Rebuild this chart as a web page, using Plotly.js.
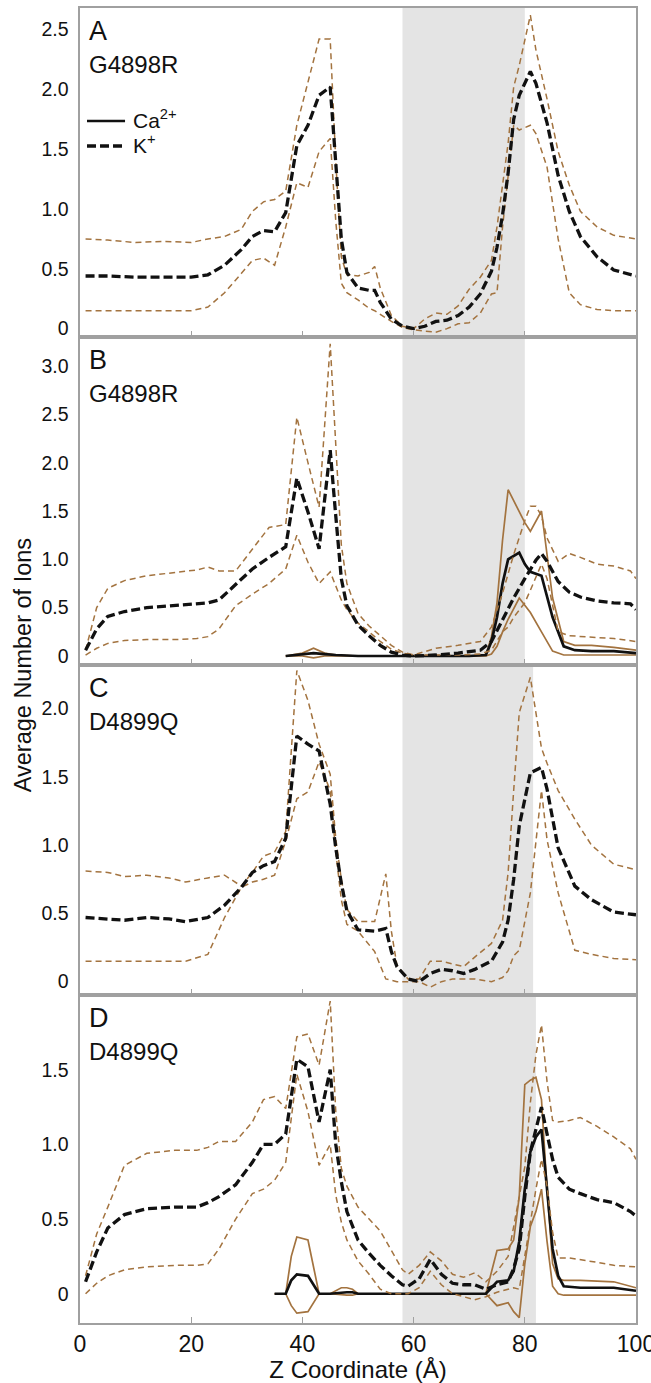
<!DOCTYPE html>
<html>
<head>
<meta charset="utf-8">
<script src="https://cdn.plot.ly/plotly-3.0.1.min.js"></script>
<style>html,body{margin:0;padding:0;background:#fff;}#chart{width:651px;height:1383px;}</style>
</head>
<body>
<div id="chart"></div>
<script>
// ---------- DATA ----------
const panelLetters = ['A', 'B', 'C', 'D'];
const panelMutants = ['G4898R', 'G4898R', 'D4899Q', 'D4899Q'];
const legendLabels = ['Ca<sup>2+</sup>', 'K<sup>+</sup>'];
const shadeStart = [58, 58, 58, 58];
const shadeEnd = [80, 80, 81.5, 82];
const xTickVals = [0, 20, 40, 60, 80, 100];
const xTickText = ['0', '20', '40', '60', '80', '100'];
const yTickValsA = [0, 0.5, 1.0, 1.5, 2.0, 2.5];
const yTickTextA = ['0', '0.5', '1.0', '1.5', '2.0', '2.5'];
const yTickValsB = [0, 0.5, 1.0, 1.5, 2.0, 2.5, 3.0];
const yTickTextB = ['0', '0.5', '1.0', '1.5', '2.0', '2.5', '3.0'];
const yTickValsC = [0, 0.5, 1.0, 1.5, 2.0];
const yTickTextC = ['0', '0.5', '1.0', '1.5', '2.0'];
const yTickValsD = [0, 0.5, 1.0, 1.5];
const yTickTextD = ['0', '0.5', '1.0', '1.5'];

// Panel A (G4898R) K+
const zA = [1,5,10,15,20,23,26,29,31,33,35,37,39,41,43,45,46,47,48,50,52,53,54,56,58,60,62,64,66,68,70,72,74,75,76,77,78,79,81,82,84,86,88,90,93,96,100];
const kMeanA = [0.44,0.44,0.43,0.43,0.43,0.45,0.53,0.66,0.77,0.82,0.81,0.97,1.53,1.70,1.95,2.02,1.40,0.75,0.47,0.34,0.32,0.32,0.22,0.08,0.02,0.0,0.02,0.06,0.07,0.11,0.18,0.29,0.48,0.68,0.95,1.30,1.75,1.95,2.15,2.05,1.72,1.28,0.98,0.77,0.60,0.49,0.44];
const kUpA = [0.75,0.74,0.72,0.73,0.72,0.75,0.77,0.83,0.98,1.06,1.08,1.15,1.70,2.05,2.42,2.42,1.40,0.60,0.45,0.44,0.47,0.52,0.34,0.11,0.02,0.0,0.08,0.13,0.12,0.19,0.33,0.43,0.57,0.85,1.20,1.55,2.02,2.20,2.62,2.33,1.92,1.48,1.20,0.98,0.85,0.78,0.75];
const kLoA = [0.15,0.15,0.15,0.15,0.15,0.18,0.30,0.46,0.57,0.59,0.53,0.85,1.22,1.18,1.48,1.59,0.90,0.38,0.30,0.24,0.17,0.15,0.12,0.06,0.01,-0.01,-0.02,-0.03,0.0,0.04,0.05,0.13,0.29,0.30,0.85,1.30,1.70,1.66,1.70,1.63,1.35,0.75,0.30,0.20,0.16,0.15,0.15];

// Panel B (G4898R) K+
const zB = [1,3,5,8,12,17,21,23,25,28,31,34,37,39,41,43,45,46,47,48,50,52,54,56,58,60,64,68,72,74,76,77,78,80,81,82,83,84,86,88,90,93,96,99,100];
const kMeanB = [0.06,0.28,0.41,0.46,0.50,0.52,0.54,0.55,0.58,0.74,0.90,1.02,1.13,1.84,1.49,1.11,2.13,1.45,0.80,0.52,0.32,0.21,0.11,0.04,0.01,0.0,0.01,0.03,0.06,0.15,0.38,0.49,0.60,0.80,0.90,0.99,1.06,0.98,0.77,0.66,0.61,0.57,0.55,0.54,0.48];
const kUpB = [0.06,0.50,0.70,0.78,0.83,0.86,0.89,0.92,0.88,0.88,1.10,1.33,1.36,2.47,2.00,1.54,3.23,2.20,1.15,0.75,0.44,0.31,0.21,0.11,0.04,0.01,0.08,0.11,0.15,0.30,0.65,0.85,1.05,1.40,1.55,1.55,1.45,1.22,0.98,1.06,1.02,0.95,0.93,0.88,0.80];
const kLoB = [0.01,0.08,0.13,0.16,0.17,0.17,0.18,0.20,0.28,0.52,0.64,0.75,0.90,1.25,0.97,0.75,0.87,0.72,0.58,0.48,0.34,0.25,0.15,0.07,0.03,0.01,0.01,0.01,0.02,0.06,0.25,0.30,0.40,0.55,0.68,0.82,0.95,0.80,0.25,0.21,0.20,0.19,0.18,0.16,0.15];
// Panel B Ca2+
const zCaB = [37,40,42,44,46,50,60,70,73,74,75,76,77,79,80,81,83,85,87,89,92,96,100];
const caMeanB = [0,0.02,0.03,0.02,0.01,0,0,0,0.01,0.15,0.40,0.75,1.00,1.07,0.95,0.87,0.83,0.40,0.10,0.06,0.05,0.05,0.03];
const caUpB = [0,0.03,0.08,0.03,0.01,0,0,0,0.01,0.20,0.55,1.20,1.72,1.50,1.38,1.29,1.50,0.60,0.15,0.11,0.11,0.09,0.06];
const caLoB = [0,0,-0.02,0,0,0,0,0,0,0.02,0.10,0.25,0.38,0.60,0.52,0.45,0.25,0.05,0.01,0.01,0.01,0.01,0.01];

// Panel C (D4899Q) K+
const zC = [1,5,8,12,16,19,23,26,29,31,33,35,37,39,41,43,45,46,47,48,50,53,55,56,57,59,61,63,65,67,69,71,74,76,77,78,79,81,83,84,86,89,92,96,100];
const kMeanC = [0.47,0.46,0.45,0.47,0.46,0.44,0.47,0.56,0.69,0.80,0.85,0.88,1.05,1.80,1.74,1.69,1.30,0.98,0.72,0.52,0.38,0.37,0.39,0.22,0.11,0.02,0.0,0.06,0.09,0.08,0.06,0.09,0.15,0.29,0.45,0.75,1.14,1.53,1.57,1.41,0.98,0.70,0.60,0.51,0.49];
const kUpC = [0.81,0.80,0.77,0.78,0.76,0.73,0.76,0.78,0.70,0.80,0.92,0.95,1.10,2.28,2.06,1.74,1.52,1.05,0.75,0.53,0.44,0.44,0.79,0.37,0.12,0.02,0.02,0.15,0.15,0.13,0.11,0.18,0.28,0.45,0.80,1.40,1.97,2.23,1.71,1.60,1.40,1.19,1.00,0.86,0.82];
const kLoC = [0.15,0.15,0.15,0.15,0.15,0.15,0.20,0.47,0.69,0.73,0.75,0.78,1.03,1.34,1.39,1.61,1.40,0.95,0.60,0.42,0.37,0.22,0.02,0.01,0.0,0.0,0.0,-0.04,0.0,0.02,0.02,0.02,0.0,0.03,0.08,0.19,0.23,0.65,1.40,1.04,0.65,0.23,0.20,0.17,0.16];

// Panel D (D4899Q) K+
const zD = [1,3,5,8,12,17,21,23,25,28,31,33,35,37,39,41,43,45,46,47,48,50,52,54,56,58,59,61,63,65,67,69,71,73,75,77,78,79,80,81,82,83,84,85,86,88,90,93,96,99,100];
const kMeanD = [0.08,0.28,0.44,0.53,0.57,0.58,0.58,0.61,0.65,0.73,0.88,1.00,1.00,1.07,1.57,1.52,1.15,1.50,1.00,0.75,0.55,0.36,0.27,0.19,0.12,0.06,0.05,0.10,0.23,0.13,0.07,0.06,0.06,0.03,0.06,0.08,0.17,0.30,0.65,0.95,1.10,1.25,1.07,0.90,0.78,0.70,0.67,0.63,0.61,0.55,0.52];
const kUpD = [0.12,0.40,0.58,0.86,0.94,0.96,0.96,0.98,1.02,1.02,1.15,1.30,1.32,1.24,1.72,1.74,1.53,1.96,1.22,0.84,0.72,0.58,0.50,0.42,0.29,0.16,0.13,0.19,0.28,0.22,0.13,0.11,0.14,0.08,0.15,0.25,0.45,0.65,0.85,1.28,1.60,1.80,1.42,1.16,1.15,1.16,1.18,1.12,1.05,0.97,0.90];
const kLoD = [0.0,0.07,0.12,0.16,0.18,0.19,0.19,0.20,0.30,0.50,0.67,0.70,0.76,0.88,1.47,1.22,0.86,1.00,0.66,0.48,0.36,0.22,0.13,0.03,0.0,0.0,0.0,0.04,0.15,0.06,0.0,-0.02,-0.04,-0.02,0.01,0.03,0.04,0.03,0.25,0.50,0.70,0.90,0.72,0.41,0.24,0.24,0.23,0.21,0.19,0.18,0.18];
// Panel D Ca2+
const zCaD = [35,37,38,39,41,42,43,45,47,48,49,50,60,70,73,75,77,78,79,80,81,82,83,84,85,86,87,90,96,100];
const caMeanD = [0,0,0.09,0.13,0.12,0.06,0,0,0.01,0.01,0.01,0,0,0,0,0.08,0.09,0.15,0.35,0.70,0.95,1.05,1.10,0.70,0.30,0.12,0.05,0.04,0.04,0.02];
const caUpD = [0,0,0.25,0.38,0.36,0.18,0,0,0.04,0.04,0.03,0,0,0,0,0.29,0.30,0.36,0.65,1.40,1.43,1.45,1.30,0.70,0.20,0.10,0.09,0.09,0.08,0.04];
const caLoD = [0,0,-0.08,-0.13,-0.12,-0.06,0,0,-0.01,-0.01,-0.01,0,0,0,0,-0.08,-0.06,-0.12,-0.16,0.20,0.45,0.55,0.70,0.35,0.05,0,-0.01,-0.01,-0.01,-0.01];

// ---------- STYLE ----------
const FONT = 'Liberation Sans, Arial, Helvetica, sans-serif';
const BROWN = '#a3733f';
const BLACK = '#111111';
const FRAME = '#a0a0a0';
const K_DASH = '9px,4px';
const CI_DASH = '6px,4px';

const traces = [];
function addK(z, mean, up, lo, ax) {
  traces.push({x: z, y: up, xaxis: ax.x, yaxis: ax.y, mode: 'lines', line: {color: BROWN, width: 1.5, dash: CI_DASH}, showlegend: false});
  traces.push({x: z, y: lo, xaxis: ax.x, yaxis: ax.y, mode: 'lines', line: {color: BROWN, width: 1.5, dash: CI_DASH}, showlegend: false});
  traces.push({x: z, y: mean, xaxis: ax.x, yaxis: ax.y, mode: 'lines', line: {color: BLACK, width: 3.3, dash: K_DASH}, showlegend: false});
}
function addCa(z, mean, up, lo, ax) {
  traces.push({x: z, y: up, xaxis: ax.x, yaxis: ax.y, mode: 'lines', line: {color: BROWN, width: 1.7}, showlegend: false});
  traces.push({x: z, y: lo, xaxis: ax.x, yaxis: ax.y, mode: 'lines', line: {color: BROWN, width: 1.7}, showlegend: false});
  traces.push({x: z, y: mean, xaxis: ax.x, yaxis: ax.y, mode: 'lines', line: {color: BLACK, width: 2.7}, showlegend: false});
}
const axA = {x: 'x', y: 'y'}, axB = {x: 'x2', y: 'y2'}, axC = {x: 'x3', y: 'y3'}, axD = {x: 'x4', y: 'y4'};
addK(zA, kMeanA, kUpA, kLoA, axA);
addCa(zCaB, caMeanB, caUpB, caLoB, axB);
addK(zB, kMeanB, kUpB, kLoB, axB);
addK(zC, kMeanC, kUpC, kLoC, axC);
addCa(zCaD, caMeanD, caUpD, caLoD, axD);
addK(zD, kMeanD, kUpD, kLoD, axD);

// domains (top to bottom A,B,C,D)
const domains = [[0.7498, 1], [0.5004, 0.7498], [0.2494, 0.5004], [0, 0.2494]];
const yRanges = [[-0.07, 2.68], [-0.093, 3.30], [-0.098, 2.32], [-0.196, 2.0]];
const yTV = [yTickValsA, yTickValsB, yTickValsC, yTickValsD];
const yTT = [yTickTextA, yTickTextB, yTickTextC, yTickTextD];

const layout = {
  width: 651, height: 1383,
  margin: {l: 80, r: 15, t: 8, b: 60},
  paper_bgcolor: '#fff', plot_bgcolor: 'rgba(0,0,0,0)',
  font: {family: FONT, color: '#111'},
  showlegend: false,
  shapes: [], annotations: []
};
const suffix = ['', '2', '3', '4'];
for (let i = 0; i < 4; i++) {
  const s = suffix[i];
  layout['xaxis' + s] = {
    domain: [0, 1], range: [0, 100], anchor: 'y' + s,
    tickvals: xTickVals, ticktext: xTickText, showticklabels: i === 3,
    ticklabeloverflow: 'allow',
    ticks: 'inside', ticklen: 6, tickcolor: FRAME, tickwidth: 1.2,
    showline: true, mirror: true, linecolor: FRAME, linewidth: 1.6,
    showgrid: false, zeroline: false,
    tickfont: {family: FONT, size: 23, color: '#111'}
  };
  layout['yaxis' + s] = {
    domain: domains[i], range: yRanges[i], anchor: 'x' + s,
    tickvals: yTV[i], ticktext: yTT[i],
    ticks: '', ticklabelstandoff: 6,
    showline: true, mirror: true, linecolor: FRAME, linewidth: 1.6,
    showgrid: false, zeroline: false,
    tickfont: {family: FONT, size: 19.5, color: '#111'}
  };
  layout.shapes.push({type: 'rect', xref: 'x' + s, yref: 'y' + s + ' domain',
    x0: shadeStart[i], x1: shadeEnd[i], y0: 0, y1: 1, fillcolor: '#e4e4e4', line: {width: 0}, layer: 'below'});
  layout.annotations.push({xref: 'x' + s, yref: 'y' + s + ' domain', x: 1.2, y: 0.982, xanchor: 'left', yanchor: 'top',
    text: panelLetters[i], showarrow: false, font: {family: FONT, size: 27, color: '#111'}});
  layout.annotations.push({xref: 'x' + s, yref: 'y' + s + ' domain', x: 1.3, y: 0.876, xanchor: 'left', yanchor: 'top',
    text: panelMutants[i], showarrow: false, font: {family: FONT, size: 24, color: '#111'}});
}
// legend drawn in panel A
const legY = [0.6565, 0.5806];
const legDash = ['solid', K_DASH];
const legWidth = [2.7, 3.3];
for (let j = 0; j < 2; j++) {
  layout.shapes.push({type: 'line', xref: 'x domain', yref: 'y domain', x0: 0.0126, x1: 0.081, y0: legY[j], y1: legY[j],
    line: {color: BLACK, width: legWidth[j], dash: legDash[j]}});
  layout.annotations.push({xref: 'x domain', yref: 'y domain', x: 0.092, y: legY[j] + 0.006, xanchor: 'left', yanchor: 'middle',
    text: legendLabels[j], showarrow: false, font: {family: FONT, size: 21, color: '#111'}});
}
layout.xaxis4.title = {text: 'Z Coordinate (Å)', font: {family: FONT, size: 24, color: '#111'}, standoff: 13};
layout.annotations.push({xref: 'paper', yref: 'paper', x: -0.103, y: 0.5, xanchor: 'center', yanchor: 'middle',
  text: 'Average Number of Ions', textangle: -90, showarrow: false, font: {family: FONT, size: 23.5, color: '#111'}});

Plotly.newPlot('chart', traces, layout, {staticPlot: true, displayModeBar: false});
</script>
</body>
</html>
